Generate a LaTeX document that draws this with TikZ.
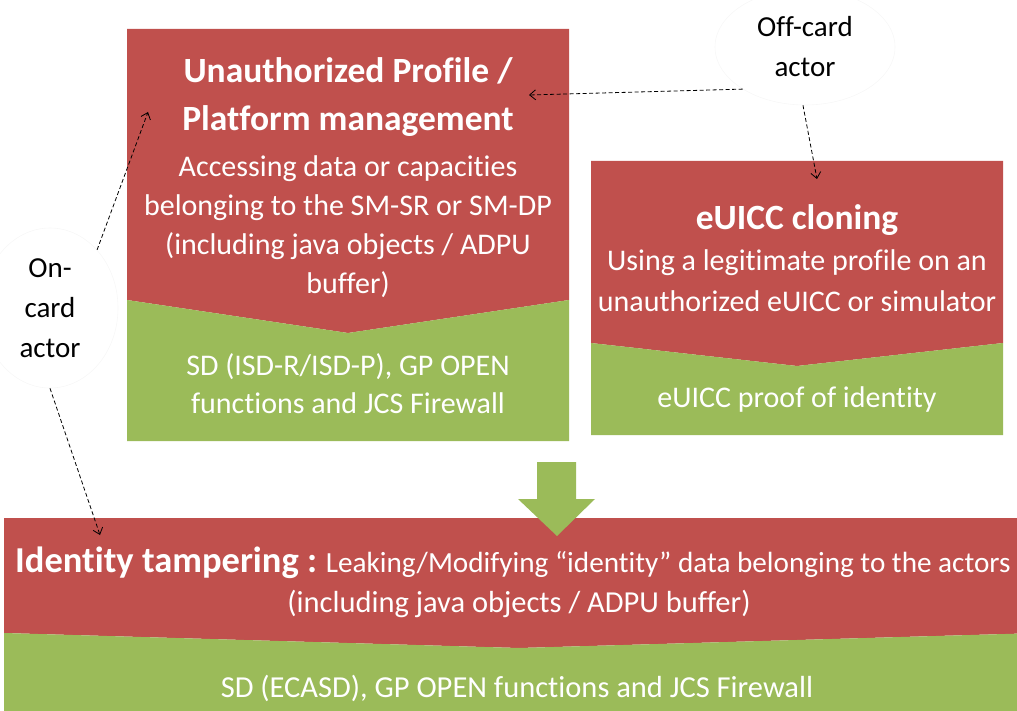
\documentclass[tikz,border=0pt]{standalone}
\usepackage{fontspec}
\setmainfont{Carlito}[Ligatures=NoCommon]
\usetikzlibrary{arrows.meta,shapes.geometric}
\definecolor{cred}{HTML}{C0504D}
\definecolor{cgreen}{HTML}{9BBB59}
\tikzset{
  wtxt/.style={text=white, inner sep=0pt, anchor=base},
  bodytxt/.style={wtxt, font=\fontsize{30}{36}\selectfont},
  ttltxt/.style={wtxt, font=\fontsize{35.5}{40}\bfseries\selectfont},
  lowtxt/.style={wtxt, font=\fontsize{30.5}{36}\selectfont},
  actor/.style={ellipse, draw=black!3, line width=0.6pt, inner sep=0pt, align=center,
    font=\fontsize{29}{40}\selectfont, text=black},
  conn/.style={draw=black, line width=0.8pt, dash pattern=on 4pt off 2.5pt,
    -{Straight Barb[length=6pt,width=10pt]}},
  redpart/.style={fill=cred},
  greenpart/.style={fill=cgreen}
}
\begin{document}
\begin{tikzpicture}[x=1pt,y=-1pt]
\useasboundingbox (0,0) rectangle (1017,711);
\clip (0,0) rectangle (1017,711);

% Box 1
\fill[redpart] (127,29) -- (569,29) -- (569,300) -- (348,333) -- (127,300) -- cycle;
\fill[greenpart] (127,300) -- (348,333) -- (569,300) -- (569,441) -- (127,441) -- cycle;
\node[ttltxt] (b1t1) at (348,83) {Unauthorized Profile /};
\node[ttltxt] (b1t2) at (348,131) {Platform management};
\node[bodytxt] (b1l1) at (348,177) {Accessing data or capacities};
\node[bodytxt] (b1l2) at (348,216) {belonging to the SM-SR or SM-DP};
\node[bodytxt] (b1l3) at (348,255) {(including java objects / ADPU};
\node[bodytxt] (b1l4) at (348,294) {buffer)};
\node[bodytxt] (b1g1) at (348,375) {SD (ISD-R/ISD-P), GP OPEN};
\node[bodytxt] (b1g2) at (348,413) {functions and JCS Firewall};

% Box 2
\fill[redpart] (591,161) -- (1003,161) -- (1003,343) -- (797,366) -- (591,343) -- cycle;
\fill[greenpart] (591,343) -- (797,366) -- (1003,343) -- (1003,435) -- (591,435) -- cycle;
\node[ttltxt] (b2t1) at (797,230) {eUICC cloning};
\node[bodytxt] (b2l1) at (797,271) {Using a legitimate profile on an};
\node[bodytxt] (b2l2) at (797,312) {unauthorized eUICC or simulator};
\node[bodytxt] (b2g1) at (797,407) {eUICC proof of identity};

% Box 3
\fill[redpart] (4,518) -- (1040,518) -- (1040,633) -- (519,648) -- (4,633) -- cycle;
\fill[greenpart] (4,633) -- (519,648) -- (1040,633) -- (1040,711) -- (4,711) -- cycle;
\node[wtxt, anchor=base west, font=\fontsize{29.2}{36}\selectfont] (b3l1) at (15,572)
  {{\fontsize{36.5}{40}\bfseries\selectfont Identity tampering :} Leaking/Modifying “identity” data belonging to the actors};
\node[lowtxt] (b3l2) at (519,612) {(including java objects / ADPU buffer)};
\node[lowtxt] (b3g1) at (517,697) {SD (ECASD), GP OPEN functions and JCS Firewall};

% Big down arrow
\fill[greenpart] (537,462) -- (576,462) -- (576,499) -- (595,499) -- (557,536) -- (518,499) -- (537,499) -- cycle;

% Actors
\node[actor, minimum width=180pt, minimum height=116pt] (off) at (805,47) {Off-card\\actor};
\node[actor, minimum width=136pt, minimum height=160pt] (on) at (50,308) {On-\\card\\actor};

% Connector end points
\coordinate (b1in) at (529,95);
\coordinate (b2in) at (817,179);
\coordinate (b1ul) at (148,112);
\coordinate (b3in) at (100,535);

\draw[conn] (off.214) -- (b1in);
\draw[conn] (off.268) -- (b2in);
\draw[conn] (on.51) -- (b1ul);
\draw[conn] (on.270) -- (b3in);
\end{tikzpicture}
\end{document}
